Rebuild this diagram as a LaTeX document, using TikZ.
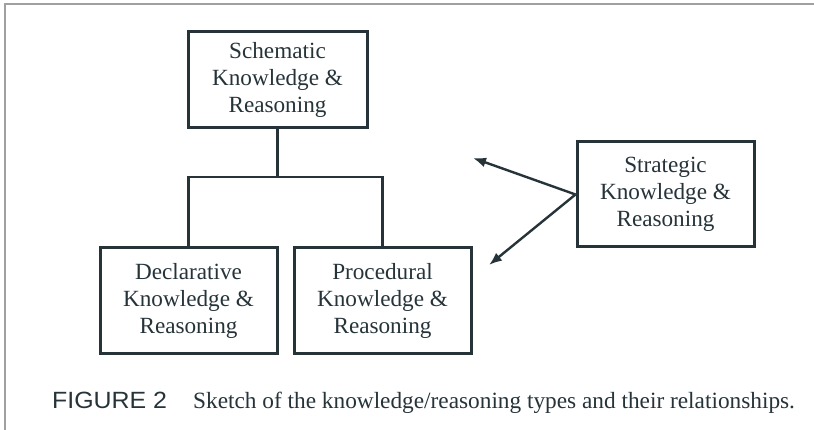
\documentclass[tikz,border=0pt]{standalone}
\usepackage{fontspec}
\setmainfont{Liberation Serif}
\newfontfamily\capsans{Liberation Sans}
\usetikzlibrary{arrows.meta}
\definecolor{ink}{RGB}{38,52,58}
\definecolor{frame}{RGB}{160,160,160}
\begin{document}
\begin{tikzpicture}[x=1pt,y=-1pt,
  kbox/.style={draw=ink,line width=3pt,text=ink,align=center,
    font=\fontsize{23.2}{27}\selectfont,inner sep=0pt,
    minimum width=177pt,minimum height=105pt},
  link/.style={draw=ink,line width=2.8pt},
  pointer/.style={draw=ink,line width=2.4pt,-{Latex[length=13pt,width=10pt]}}]
\useasboundingbox (0,0) rectangle (814,430);
\fill[white] (0,0) rectangle (814,430);
% page frame lines
\draw[frame,line width=1.6pt] (5,430) -- (5,4) -- (814,4);

\node[kbox,minimum width=179pt,minimum height=96pt] (schem) at (277.5,80)
  {Schematic\\Knowledge \&\\Reasoning};
\node[kbox] (decl) at (188.5,300.5) {Declarative\\Knowledge \&\\Reasoning};
\node[kbox] (proc) at (382.5,300.5) {Procedural\\Knowledge \&\\Reasoning};
\node[kbox] (strat) at (665.5,194.5) {Strategic\\Knowledge \&\\Reasoning};

\coordinate (bus) at (277.5,177);
\draw[link] (schem.south) -- (bus);
\draw[link] (decl.north) |- (bus) -| (proc.north);

\coordinate (tipA) at (473,158);
\coordinate (tipB) at (489,265);
\draw[pointer] (strat.west) -- (tipA);
\draw[pointer] (strat.west) -- (tipB);

\node[anchor=base west,inner sep=0pt,text=ink,xscale=1.06,font=\capsans\fontsize{23.5}{26}\selectfont] (figlabel) at (52,408) {FIGURE 2};
\node[anchor=base west,inner sep=0pt,text=ink,font=\fontsize{23.3}{26}\selectfont] (figtext) at (193,408)
  {Sketch of the knowledge/reasoning types and their relationships.};
\end{tikzpicture}
\end{document}
